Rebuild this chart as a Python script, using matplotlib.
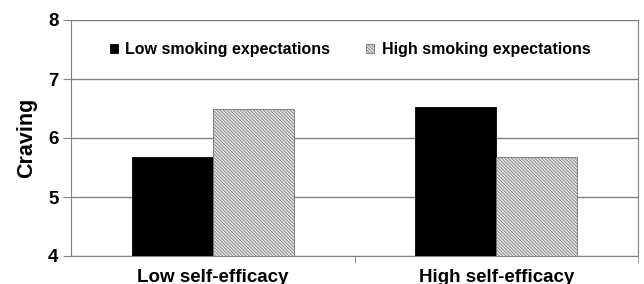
import matplotlib.pyplot as plt
import numpy as np

plt.rcParams['font.family'] = ['Liberation Sans', 'DejaVu Sans']
plt.rcParams['font.weight'] = 'bold'
plt.rcParams['hatch.color'] = '#7a7a7a'
plt.rcParams['hatch.linewidth'] = 0.5

categories = ["Low self-efficacy", "High self-efficacy"]
series = ["Low smoking expectations", "High smoking expectations"]
low_exp = [5.68, 6.53]
high_exp = [6.49, 5.67]

fig = plt.figure(figsize=(6.44, 2.84), dpi=100)
ax = fig.add_axes([71 / 644, 28 / 284, 567 / 644, 236 / 284])

x = np.arange(len(categories))
w = 0.286
ax.bar(x - w / 2, low_exp, w, color="black", edgecolor="black", linewidth=0.6,
       label=series[0], zorder=3)
ax.bar(x + w / 2, high_exp, w, color="#e2e2e2", edgecolor="#707070", linewidth=0.6,
       hatch="\\" * 10, label=series[1], zorder=3)

ax.set_xlim(-0.5, 1.5)
ax.set_ylim(4, 8)
ax.set_yticks([4, 5, 6, 7, 8])
ax.yaxis.grid(True, color="#808080", linewidth=1.0, zorder=0)
ax.set_xticks(x)
ax.set_xticklabels(categories, fontsize=13.5, fontweight="bold")
ax.set_xticks([0.5, 1.5], minor=True)
ax.tick_params(axis="x", which="major", length=0, pad=9)
ax.tick_params(axis="x", which="minor", length=5, color="#808080", direction="out")
ax.tick_params(axis="y", length=6, color="#808080", labelsize=13.5, pad=3)
for s in ax.spines.values():
    s.set_color("#808080")
ax.set_ylabel("Craving", fontsize=15.5, fontweight="bold", labelpad=8)

ax.legend(loc="center", bbox_to_anchor=(0.492, (7.5 - 4) / 4), ncol=2, frameon=False,
          handlelength=0.5, handleheight=0.5, handletextpad=0.45, columnspacing=2.3,
          prop={"size": 11.5, "weight": "bold"})

fig.savefig("out.png", dpi=100)
